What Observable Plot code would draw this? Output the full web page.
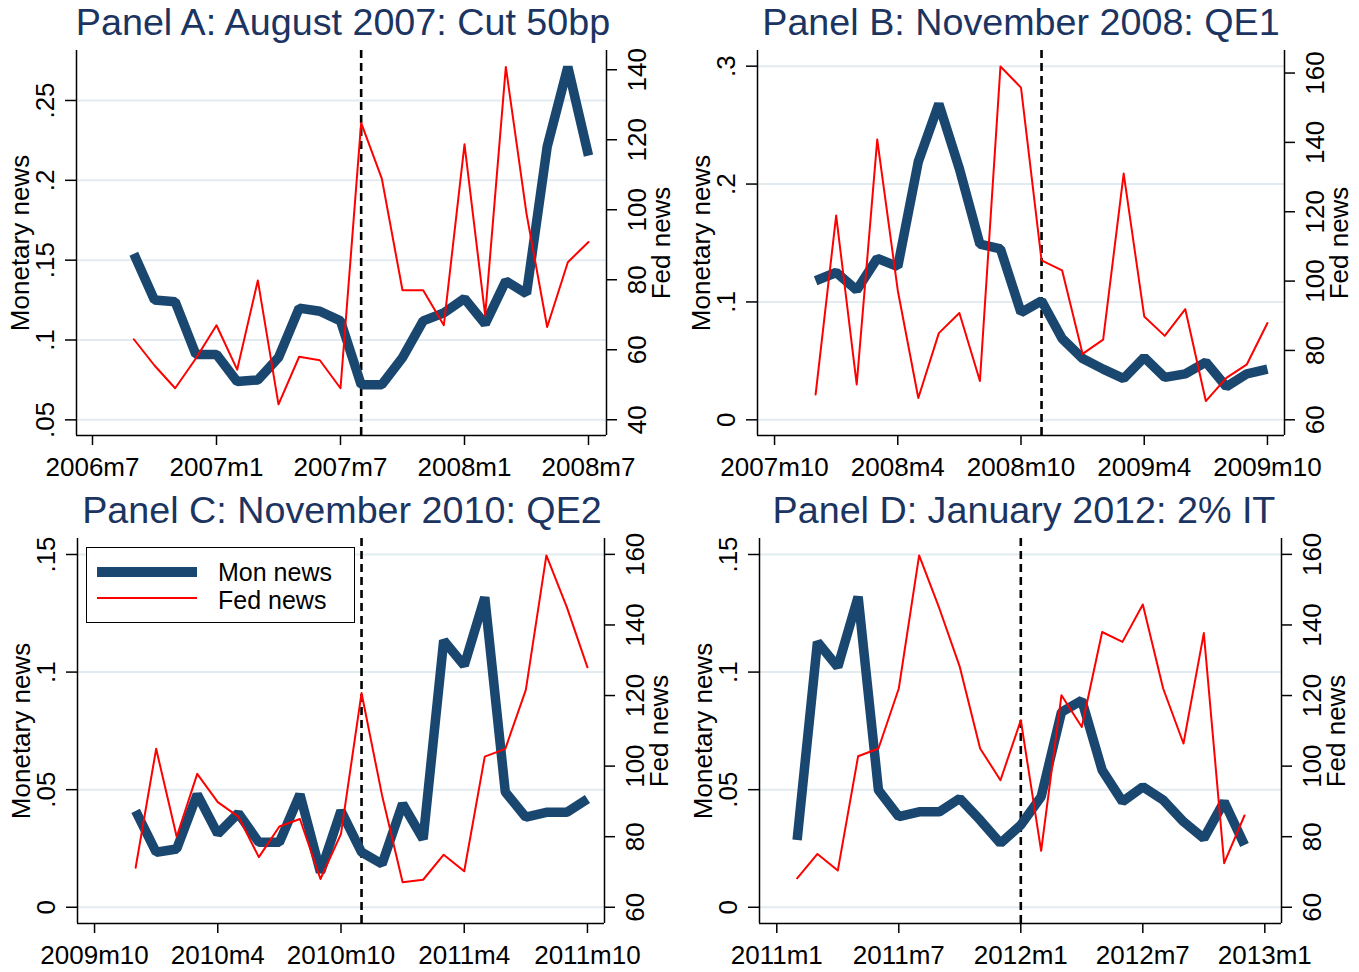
<!DOCTYPE html>
<html><head><meta charset="utf-8">
<script src="https://cdn.jsdelivr.net/npm/d3@7"></script>
<script src="https://cdn.jsdelivr.net/npm/@observablehq/plot@0.6"></script>
<style>
html,body{margin:0;padding:0;background:#fff;}
#root{position:relative;width:1359px;height:972px;overflow:hidden;font-family:"Liberation Sans",Arial,Helvetica,sans-serif;}
.panel{position:absolute;}
.title{position:absolute;font-size:37.7px;line-height:37.7px;color:#1b3461;white-space:nowrap;transform:translateX(-50%);}
.legend{position:absolute;background:#fff;border:1.5px solid #000;box-sizing:border-box;font-size:25px;line-height:20px;color:#000;}
.legend .sw{position:absolute;}
.legend .lb{position:absolute;white-space:nowrap;height:20px;line-height:20px;}
</style></head><body><div id="root"></div>
<script>
// ---------------- data ----------------
const titles = ["Panel A: August 2007: Cut 50bp", "Panel B: November 2008: QE1", "Panel C: November 2010: QE2", "Panel D: January 2012: 2% IT"];
const seriesNames = ["Mon news", "Fed news"];
const leftAxisTitle = "Monetary news";
const rightAxisTitle = "Fed news";

const aMonths = ["2006m9","2006m10","2006m11","2006m12","2007m1","2007m2","2007m3","2007m4","2007m5","2007m6","2007m7","2007m8","2007m9","2007m10","2007m11","2007m12","2008m1","2008m2","2008m3","2008m4","2008m5","2008m6","2008m7"];
const aMon = [0.154,0.125,0.124,0.091,0.091,0.074,0.075,0.089,0.120,0.118,0.112,0.072,0.072,0.089,0.112,0.117,0.126,0.110,0.137,0.129,0.221,0.271,0.2155];
const aFed = [63,55.5,49,57.5,67,54.3,79.8,44.4,58,57,49,124.8,108.9,77,77,67,118.7,69.8,140.8,98.9,66.5,85,90.8];
const aXTicks = ["2006m7","2007m1","2007m7","2008m1","2008m7"];
const aLeftTicks = [0.05,0.1,0.15,0.2,0.25];
const aRightTicks = [40,60,80,100,120,140];
const aEvent = "2007m8";

const bMonths = ["2007m12","2008m1","2008m2","2008m3","2008m4","2008m5","2008m6","2008m7","2008m8","2008m9","2008m10","2008m11","2008m12","2009m1","2009m2","2009m3","2009m4","2009m5","2009m6","2009m7","2009m8","2009m9","2009m10"];
const bMon = [0.118,0.125,0.110,0.137,0.130,0.219,0.268,0.213,0.149,0.145,0.091,0.101,0.069,0.052,0.043,0.035,0.053,0.036,0.039,0.049,0.028,0.039,0.043];
const bFed = [67.3,118.9,70.2,140.8,97.3,66.3,85,90.8,71.2,161.9,155.8,106,103.1,79,83.1,131,89.8,84.2,91.9,65.4,72.1,76,87.9];
const bXTicks = ["2007m10","2008m4","2008m10","2009m4","2009m10"];
const bLeftTicks = [0,0.1,0.2,0.3];
const bRightTicks = [60,80,100,120,140,160];
const bEvent = "2008m11";

const cMonths = ["2009m12","2010m1","2010m2","2010m3","2010m4","2010m5","2010m6","2010m7","2010m8","2010m9","2010m10","2010m11","2010m12","2011m1","2011m2","2011m3","2011m4","2011m5","2011m6","2011m7","2011m8","2011m9","2011m10"];
const cMon = [0.041,0.0234,0.0248,0.048,0.0312,0.040,0.0276,0.0276,0.048,0.0149,0.041,0.0234,0.0184,0.044,0.029,0.1134,0.1028,0.1318,0.049,0.0383,0.0404,0.0404,0.046];
const cFed = [71.2,104.9,80,97.8,89.8,85.7,74.2,82.9,85,68,80.8,120.7,91.7,67.1,67.8,74.9,70.2,102.7,104.9,121.6,159.7,145,128];
const cXTicks = ["2009m10","2010m4","2010m10","2011m4","2011m10"];
const cLeftTicks = [0,0.05,0.1,0.15];
const cRightTicks = [60,80,100,120,140,160];
const cEvent = "2010m11";

const dMonths = ["2011m2","2011m3","2011m4","2011m5","2011m6","2011m7","2011m8","2011m9","2011m10","2011m11","2011m12","2012m1","2012m2","2012m3","2012m4","2012m5","2012m6","2012m7","2012m8","2012m9","2012m10","2012m11","2012m12"];
const dMon = [0.0286,0.1128,0.1022,0.132,0.0498,0.0385,0.0406,0.0406,0.0463,0.0371,0.0272,0.035,0.047,0.083,0.088,0.0583,0.0449,0.0512,0.0456,0.0364,0.0293,0.0449,0.0265];
const dFed = [68.2,75.1,70.4,102.8,105,122,159.7,144.6,128.1,105,96,113,76,120.1,111.1,138,135.2,145.8,122,106.4,137.7,72.5,86];
const dXTicks = ["2011m1","2011m7","2012m1","2012m7","2013m1"];
const dLeftTicks = [0,0.05,0.1,0.15];
const dRightTicks = [60,80,100,120,140,160];
const dEvent = "2012m1";

// ---------------- helpers ----------------
const FONT = '"Liberation Sans", Arial, Helvetica, sans-serif';
const NAVY = "#1a476f";
const RED = "#ff0000";
const GRID = "#e2ebef";
const idx = s => { const [y, m] = s.split("m").map(Number); return y * 12 + m - 1; };
const lab = i => `${Math.floor(i / 12)}m${(i % 12) + 1}`;
const fmtLeft = d => d === 0 ? "0" : String(+d.toFixed(3)).replace(/^0/, "");

const root = document.getElementById("root");

function panel(cfg) {
  const {sx, sy, w, h, L, R, T, B, months, mon, fed, xTicks, padL, padR,
         leftTicks, leftDomain, rightTicks, rightDomain, event, title, titleX, titleTop} = cfg;
  const toLeft = v => leftDomain[0] + (v - rightDomain[0]) / (rightDomain[1] - rightDomain[0]) * (leftDomain[1] - leftDomain[0]);
  const fromLeft = v => rightDomain[0] + (v - leftDomain[0]) / (leftDomain[1] - leftDomain[0]) * (rightDomain[1] - rightDomain[0]);
  const xDomain = [idx(xTicks[0]) - padL, idx(xTicks[xTicks.length - 1]) + padR];
  const monData = months.map((m, i) => ({x: idx(m), y: mon[i]}));
  const fedData = months.map((m, i) => ({x: idx(m), y: toLeft(fed[i])}));

  const chart = Plot.plot({
    width: w, height: h,
    marginLeft: L - sx, marginRight: sx + w - R, marginTop: T - sy, marginBottom: sy + h - B,
    x: {domain: xDomain},
    y: {domain: leftDomain},
    style: {fontSize: "26px", fontFamily: FONT, color: "#000", background: "transparent", overflow: "visible"},
    marks: [
      Plot.gridY(leftTicks, {stroke: GRID, strokeOpacity: 1, strokeWidth: 2}),
      Plot.ruleX([idx(event)], {stroke: "#000", strokeWidth: 2.6, strokeDasharray: "8,5"}),
      Plot.line(monData, {x: "x", y: "y", stroke: NAVY, strokeWidth: 9.5, strokeLinejoin: "bevel", strokeLinecap: "butt"}),
      Plot.line(fedData, {x: "x", y: "y", stroke: RED, strokeWidth: 2, strokeLinejoin: "round"}),
      Plot.ruleX(xDomain, {stroke: "#000", strokeWidth: 1.5}),
      Plot.ruleY([leftDomain[0]], {stroke: "#000", strokeWidth: 1.5}),
      Plot.axisX(xTicks.map(idx), {tickSize: 10, tickPadding: 12, tickFormat: lab, label: null, strokeWidth: 1.5}),
      Plot.axisY(leftTicks, {anchor: "left", tickSize: 11, tickPadding: 12, tickRotate: -90, lineAnchor: "bottom", tickFormat: fmtLeft, label: null, strokeWidth: 1.5}),
      Plot.axisY(rightTicks.map(toLeft), {anchor: "right", tickSize: 10, tickPadding: 11.5, tickRotate: -90, lineAnchor: "top", tickFormat: d => String(Math.round(fromLeft(d))), label: null, strokeWidth: 1.5}),
      Plot.text([leftAxisTitle], {frameAnchor: "left", text: d => d, rotate: -90, dx: -47.5, lineAnchor: "bottom", textAnchor: "middle"}),
      Plot.text([rightAxisTitle], {frameAnchor: "right", text: d => d, rotate: -90, dx: 45.5, lineAnchor: "top", textAnchor: "middle"})
    ]
  });
  chart.classList.add("panel");
  chart.style.left = sx + "px";
  chart.style.top = sy + "px";
  root.appendChild(chart);

  const t = document.createElement("div");
  t.className = "title";
  t.textContent = title;
  t.style.left = titleX + "px";
  t.style.top = titleTop + "px";
  root.appendChild(t);
}

panel({sx: 0, sy: 45, w: 680, h: 445, L: 76, R: 606, T: 50, B: 435,
  months: aMonths, mon: aMon, fed: aFed, xTicks: aXTicks, padL: 0.774, padR: 0.871,
  leftTicks: aLeftTicks, leftDomain: [0.0402, 0.2813], rightTicks: aRightTicks, rightDomain: [35.5, 145.5],
  event: aEvent, title: titles[0], titleX: 343, titleTop: 4.3});

panel({sx: 680, sy: 45, w: 679, h: 445, L: 757, R: 1284, T: 50, B: 435,
  months: bMonths, mon: bMon, fed: bFed, xTicks: bXTicks, padL: 0.83, padR: 0.83,
  leftTicks: bLeftTicks, leftDomain: [-0.0133, 0.3133], rightTicks: bRightTicks, rightDomain: [55.47, 166.5],
  event: bEvent, title: titles[1], titleX: 1021, titleTop: 4.3});

panel({sx: 0, sy: 533, w: 680, h: 439, L: 77, R: 604, T: 538, B: 923,
  months: cMonths, mon: cMon, fed: cFed, xTicks: cXTicks, padL: 0.83, padR: 0.83,
  leftTicks: cLeftTicks, leftDomain: [-0.0069, 0.1568], rightTicks: cRightTicks, rightDomain: [55.4, 164.5],
  event: cEvent, title: titles[2], titleX: 342, titleTop: 492.3});

panel({sx: 680, sy: 533, w: 679, h: 439, L: 759, R: 1281, T: 538, B: 923,
  months: dMonths, mon: dMon, fed: dFed, xTicks: dXTicks, padL: 0.85, padR: 0.82,
  leftTicks: dLeftTicks, leftDomain: [-0.0069, 0.1568], rightTicks: dRightTicks, rightDomain: [55.4, 164.5],
  event: dEvent, title: titles[3], titleX: 1024, titleTop: 492.3});

// legend (Panel C)
const lg = document.createElement("div");
lg.className = "legend";
lg.style.left = "86px"; lg.style.top = "547px"; lg.style.width = "269px"; lg.style.height = "76px";
lg.innerHTML =
  `<div class="sw" style="left:10px;top:19px;width:100px;height:10px;background:${NAVY}"></div>` +
  `<div class="lb" style="left:131px;top:13.8px">${seriesNames[0]}</div>` +
  `<div class="sw" style="left:10px;top:49px;width:100px;height:2.2px;background:${RED}"></div>` +
  `<div class="lb" style="left:131px;top:41.9px">${seriesNames[1]}</div>`;
root.appendChild(lg);
</script></body></html>
